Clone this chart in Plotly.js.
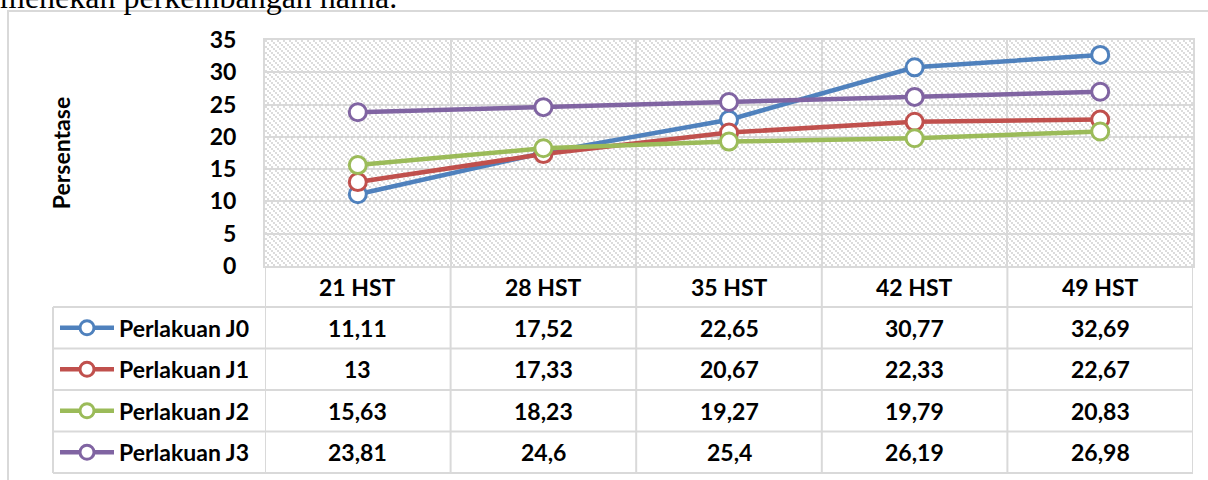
<!DOCTYPE html>
<html>
<head>
<meta charset="utf-8">
<script src="https://cdn.plot.ly/plotly-3.0.1.min.js"></script>
<style>html,body{margin:0;padding:0;background:#fff;}#chart{width:1208px;height:480px;}</style>
</head>
<body>
<div id="chart"></div>
<script>
// ---- data ----
const categories = ['21 HST', '28 HST', '35 HST', '42 HST', '49 HST'];
const seriesNames = ['Perlakuan J0', 'Perlakuan J1', 'Perlakuan J2', 'Perlakuan J3'];
const perlakuanJ0 = [11.11, 17.52, 22.65, 30.77, 32.69];
const perlakuanJ1 = [13, 17.33, 20.67, 22.33, 22.67];
const perlakuanJ2 = [15.63, 18.23, 19.27, 19.79, 20.83];
const perlakuanJ3 = [23.81, 24.6, 25.4, 26.19, 26.98];
const yTickValues = [0, 5, 10, 15, 20, 25, 30, 35];
const yAxisTitle = 'Persentase';
const pageText = 'menekan perkembangan hama.';

// ---- styling / geometry ----
const W = 1208, H = 480;
const colors = ['#4F81BD', '#C0504D', '#9BBB59', '#8064A2'];
const seriesValues = [perlakuanJ0, perlakuanJ1, perlakuanJ2, perlakuanJ3];
const plotL = 265, plotR = 1193, plotT = 40, plotB = 266;
const tableTop = 267, headerBottom = 307, rowH = 41.5, legendLeft = 53;
const gridCol = '#d9d9d9';
const fontFam = 'Lato, "Open Sans", sans-serif';
const boldFont = {family: fontFam, size: 23, color: '#000', weight: 'bold'};

// paper coordinates are relative to the plot area
const px = x => (x - plotL) / (plotR - plotL);
const py = y => (plotB - y) / (plotB - plotT);
const fmt = v => String(v).replace('.', ',');

// background pattern (plot area fill)
const pw = plotR - plotL, ph = plotB - plotT;
const svg = `<svg xmlns="http://www.w3.org/2000/svg" width="${pw}" height="${ph}" viewBox="0 0 ${pw} ${ph}" shape-rendering="crispEdges">` +
  `<defs><pattern id="p" width="6" height="6" patternUnits="userSpaceOnUse">` +
  `<rect width="6" height="6" fill="#ffffff"/>` +
  `<rect x="0" y="0" width="2" height="2" fill="#dcdcdc"/>` +
  `<rect x="2" y="2" width="2" height="2" fill="#dcdcdc"/>` +
  `<rect x="4" y="4" width="2" height="2" fill="#dcdcdc"/>` +
  `</pattern></defs><rect width="${pw}" height="${ph}" fill="url(#p)"/></svg>`;
const bgSrc = 'data:image/svg+xml;base64,' + btoa(svg);

const traces = seriesValues.map((vals, s) => ({
  type: 'scatter',
  mode: 'lines+markers',
  name: seriesNames[s],
  x: categories,
  y: vals,
  line: {color: colors[s], width: 4.5},
  marker: {symbol: 'circle', size: 17, color: '#ffffff', line: {color: colors[s], width: 3}},
  showlegend: false,
  hoverinfo: 'skip'
}));

const shapes = [];
const annotations = [];

// chart outer box
shapes.push({type: 'rect', xref: 'paper', yref: 'paper', x0: px(8), x1: px(1220), y0: py(11), y1: py(495),
  line: {color: gridCol, width: 2}, fillcolor: 'rgba(0,0,0,0)', layer: 'below'});

// table horizontal lines
shapes.push({type: 'line', xref: 'paper', yref: 'paper', x0: px(plotL), x1: px(plotR), y0: py(tableTop), y1: py(tableTop), line: {color: gridCol, width: 2}});
for (let r = 0; r <= seriesNames.length; r++) {
  const y = headerBottom + r * rowH;
  shapes.push({type: 'line', xref: 'paper', yref: 'paper', x0: px(legendLeft), x1: px(plotR), y0: py(y), y1: py(y), line: {color: gridCol, width: 2}});
}
const tableBottom = headerBottom + seriesNames.length * rowH;
// legend column left line
shapes.push({type: 'line', xref: 'paper', yref: 'paper', x0: px(legendLeft), x1: px(legendLeft), y0: py(headerBottom), y1: py(tableBottom), line: {color: gridCol, width: 2}});
// column lines at category boundaries
for (let k = 0; k <= categories.length; k++) {
  shapes.push({type: 'line', xref: 'x', yref: 'paper', x0: k - 0.5, x1: k - 0.5, y0: py(tableTop), y1: py(tableBottom), line: {color: gridCol, width: 2}});
}

// header texts
categories.forEach((c, i) => {
  annotations.push({xref: 'x', yref: 'paper', x: i, y: py((tableTop + headerBottom) / 2), text: c,
    showarrow: false, font: boldFont, xanchor: 'center', yanchor: 'middle'});
});

// rows: legend key + values
seriesNames.forEach((name, s) => {
  const cy = headerBottom + (s + 0.5) * rowH;
  shapes.push({type: 'line', xref: 'paper', yref: 'paper', x0: px(60), x1: px(114), y0: py(cy), y1: py(cy),
    line: {color: colors[s], width: 4.5}});
  shapes.push({type: 'circle', xref: 'paper', yref: 'paper', x0: px(87 - 7), x1: px(87 + 7), y0: py(cy - 7), y1: py(cy + 7),
    line: {color: colors[s], width: 3}, fillcolor: '#ffffff'});
  annotations.push({xref: 'paper', yref: 'paper', x: px(117), y: py(cy), text: name, showarrow: false,
    font: boldFont, xanchor: 'left', yanchor: 'middle'});
  seriesValues[s].forEach((v, i) => {
    annotations.push({xref: 'x', yref: 'paper', x: i, y: py(cy), text: fmt(v), showarrow: false,
      font: boldFont, xanchor: 'center', yanchor: 'middle'});
  });
});

// document text above the chart
annotations.push({xref: 'paper', yref: 'paper', x: px(-2), y: py(17), text: pageText, showarrow: false,
  xanchor: 'left', yanchor: 'bottom',
  font: {family: '"Liberation Serif", "Times New Roman", serif', size: 32, color: '#000'}});

const layout = {
  width: W, height: H,
  margin: {l: plotL, r: W - plotR, t: plotT, b: H - plotB, pad: 0},
  paper_bgcolor: '#ffffff',
  plot_bgcolor: 'rgba(0,0,0,0)',
  showlegend: false,
  xaxis: {
    type: 'category', range: [-0.5, categories.length - 0.5], tickson: 'boundaries',
    showticklabels: false, ticks: '', showgrid: true, gridcolor: gridCol, gridwidth: 2,
    showline: true, linecolor: gridCol, linewidth: 2, mirror: true, zeroline: false, fixedrange: true
  },
  yaxis: {
    range: [0, 35], tickvals: yTickValues, ticktext: yTickValues.map(String),
    ticks: 'outside', ticklen: 22, tickcolor: 'rgba(0,0,0,0)',
    tickfont: boldFont, showgrid: true, gridcolor: gridCol, gridwidth: 2,
    showline: true, linecolor: gridCol, linewidth: 2, mirror: true, zeroline: false, fixedrange: true,
    title: {text: yAxisTitle, font: boldFont, standoff: 133}
  },
  images: [{source: bgSrc, xref: 'paper', yref: 'paper', x: 0, y: 1,
    sizex: 1, sizey: 1, sizing: 'stretch',
    xanchor: 'left', yanchor: 'top', layer: 'below'}],
  shapes: shapes,
  annotations: annotations
};

Plotly.newPlot('chart', traces, layout, {displayModeBar: false, staticPlot: true});
</script>
</body>
</html>
